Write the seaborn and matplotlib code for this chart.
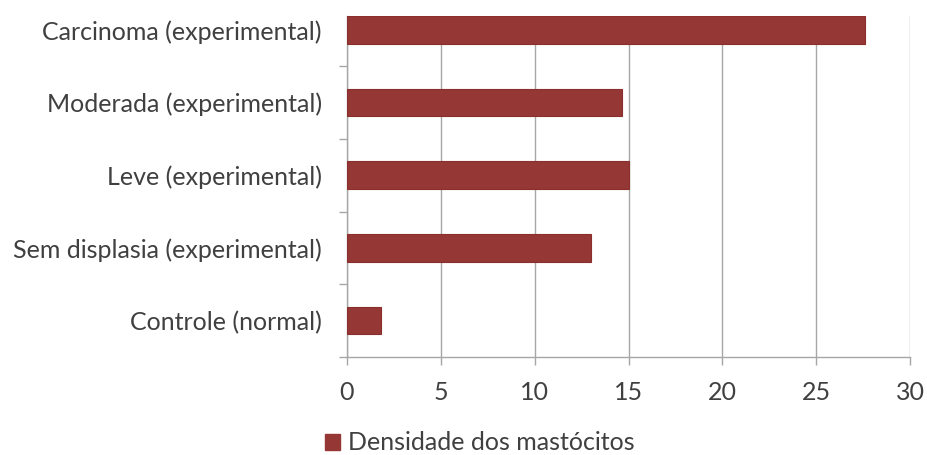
import matplotlib
matplotlib.use("Agg")
import matplotlib.pyplot as plt
import seaborn as sns
import pandas as pd
from matplotlib.patches import Patch

categories = ["Carcinoma (experimental)", "Moderada (experimental)", "Leve (experimental)",
              "Sem displasia (experimental)", "Controle (normal)"]
values = [27.6, 14.65, 15.0, 13.0, 1.8]
xticks = [0, 5, 10, 15, 20, 25, 30]
series_name = "Densidade dos mastócitos"

sns.set_theme(style="white")
plt.rcParams['font.family'] = ['Lato', 'DejaVu Sans']

df = pd.DataFrame({"cat": categories, "val": values})

fig = plt.figure(figsize=(9.28, 4.55), dpi=100)
ax = fig.add_axes([347/928, 1-357/455, (910-347)/928, (357-16)/455])

sns.barplot(data=df, y="cat", x="val", orient="h", color="#953735", width=0.38,
            edgecolor="#8a2f2d", linewidth=0.8, ax=ax, zorder=3, saturation=1)

txtcol = "#404040"
ax.set_xlim(0, 30)
ax.set_ylim(4.5, -0.19)
ax.set_xticks(xticks)
ax.set_xticklabels([str(t) for t in xticks], fontsize=18, color=txtcol)
ax.xaxis.grid(True, color="#a6a6a6", linewidth=1.0, zorder=0)
ax.yaxis.grid(False)
ax.set_xlabel("")
ax.set_ylabel("")

ax.set_yticks(range(len(categories)))
ax.set_yticklabels(categories, fontsize=18, color=txtcol)
ax.tick_params(axis="y", length=0, pad=18)
ax.set_yticks([0.5, 1.5, 2.5, 3.5, 4.5], minor=True)
ax.tick_params(axis="y", which="minor", length=6, color="#a6a6a6", width=1, direction="out", left=True)
ax.tick_params(axis="x", length=6, color="#a6a6a6", width=1, direction="out", bottom=True, pad=11)

for s in ["top", "right"]:
    ax.spines[s].set_visible(False)
for s in ["left", "bottom"]:
    ax.spines[s].set_color("#a6a6a6")
    ax.spines[s].set_linewidth(1.0)

handle = Patch(facecolor="#953735", edgecolor="#953735", label=series_name)
fig.legend(handles=[handle], loc="center", bbox_to_anchor=(480/928, 1-443/455),
           frameon=False, fontsize=18, handlelength=0.6, handleheight=0.6,
           handletextpad=0.3, labelcolor=txtcol)

fig.savefig("out.png", dpi=100)
